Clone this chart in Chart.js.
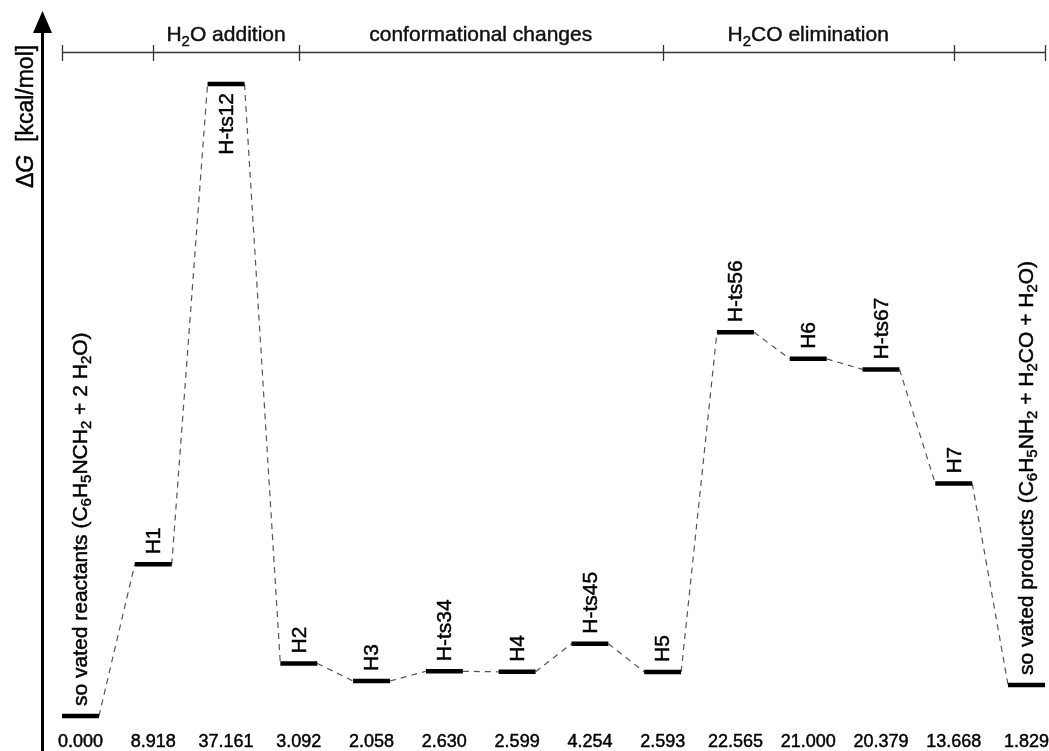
<!DOCTYPE html>
<html><head><meta charset="utf-8">
<script src="https://cdn.jsdelivr.net/npm/chart.js@4/dist/chart.umd.min.js"></script>
<style>html,body{margin:0;padding:0;background:#fff;}#wrap{width:1049px;height:751px;}</style>
</head><body><div id="wrap"><canvas id="c" width="1049" height="751"></canvas></div>
<script>
// ---- data ----
const states = [
  'so vated reactants (C_6H_5NCH_2 + 2 H_2O)', 'H1', 'H-ts12', 'H2', 'H3', 'H-ts34', 'H4',
  'H-ts45', 'H5', 'H-ts56', 'H6', 'H-ts67', 'H7', 'so vated products (C_6H_5NH_2 + H_2CO + H_2O)'
];
const energies = [0.000, 8.918, 37.161, 3.092, 2.058, 2.630, 2.599, 4.254, 2.593, 22.565, 21.000, 20.379, 13.668, 1.829];
const energyLabels = energies.map(v => v.toFixed(3));
const labelsBelow = ['H-ts12'];
const stageNames = ['H_2O addition', 'conformational changes', 'H_2CO elimination'];
const stageBounds = [-0.254, 1, 3, 8, 12, 13.254];   // bracket ticks (state index units)
const stageFirst = 1;                                 // first bound that opens a named stage

// ---- style ----
const FONT = '"Liberation Sans", Arial, Helvetica, sans-serif';
const HALF = 0.254;
const TEXT_STROKE = 0.45;

const levelPts = [];
energies.forEach((v, i) => {
  levelPts.push({x: i - HALF, y: v}, {x: i + HALF, y: v}, {x: i + 0.5, y: null});
});
const pathPts = [];
for (let i = 0; i < energies.length - 1; i++) {
  pathPts.push({x: i + HALF, y: energies[i]}, {x: i + 1 - HALF, y: energies[i + 1]}, {x: i + 1, y: null});
}

function parseRich(str) {
  const out = [];
  let cur = '';
  for (let k = 0; k < str.length; k++) {
    if (str[k] === '_' && k + 1 < str.length) {
      if (cur) out.push({t: cur, sub: false});
      cur = '';
      out.push({t: str[k + 1], sub: true});
      k++;
    } else cur += str[k];
  }
  if (cur) out.push({t: cur, sub: false});
  return out;
}
function textOut(ctx, t, x, y) {
  ctx.fillText(t, x, y);
  ctx.strokeText(t, x, y);
}
function drawRich(ctx, str, x, y, size, align, baseline) {
  const segs = parseRich(str);
  const widths = segs.map(s => {
    ctx.font = (s.sub ? Math.round(size * 0.7) : size) + 'px ' + FONT;
    return ctx.measureText(s.t).width;
  });
  const total = widths.reduce((a, b) => a + b, 0);
  let cx = align === 'center' ? x - total / 2 : align === 'right' ? x - total : x;
  ctx.textAlign = 'left';
  ctx.textBaseline = baseline;
  segs.forEach((s, k) => {
    ctx.font = (s.sub ? Math.round(size * 0.7) : size) + 'px ' + FONT;
    textOut(ctx, s.t, cx, y + (s.sub ? size * 0.25 : 0));
    cx += widths[k];
  });
}

const diagramPlugin = {
  id: 'diagram',
  afterDatasetsDraw(chart) {
    const ctx = chart.ctx;
    const xs = chart.scales.x, ys = chart.scales.y;
    const ax = chart.chartArea.left + 0.5;
    ctx.save();
    // y axis with arrow
    ctx.strokeStyle = '#000';
    ctx.lineWidth = 3;
    ctx.beginPath();
    ctx.moveTo(ax, chart.height);
    ctx.lineTo(ax, 30);
    ctx.stroke();
    ctx.fillStyle = '#000';
    ctx.beginPath();
    ctx.moveTo(ax, 11);
    ctx.lineTo(ax - 9.5, 33);
    ctx.lineTo(ax + 9.5, 33);
    ctx.closePath();
    ctx.fill();
    // y label
    ctx.save();
    ctx.strokeStyle = '#000';
    ctx.lineWidth = TEXT_STROKE;
    ctx.translate(33, 188);
    ctx.rotate(-Math.PI / 2);
    ctx.textBaseline = 'alphabetic';
    ctx.textAlign = 'left';
    let px = 0;
    ctx.font = '23px ' + FONT;
    textOut(ctx, '\u0394', px, 0); px += ctx.measureText('\u0394').width;
    ctx.font = 'italic 23px ' + FONT;
    textOut(ctx, 'G', px, 0); px += ctx.measureText('G').width;
    ctx.font = '23px ' + FONT;
    textOut(ctx, '  [kcal/mol]', px, 0);
    ctx.restore();
    // stage bracket
    ctx.strokeStyle = '#333';
    ctx.lineWidth = 1.3;
    const by = 52.5;
    ctx.beginPath();
    ctx.moveTo(xs.getPixelForValue(stageBounds[0]), by);
    ctx.lineTo(xs.getPixelForValue(stageBounds[stageBounds.length - 1]), by);
    stageBounds.forEach(b => {
      const bx = Math.round(xs.getPixelForValue(b)) + 0.5;
      ctx.moveTo(bx, 45);
      ctx.lineTo(bx, 61);
    });
    ctx.stroke();
    ctx.fillStyle = '#111';
    ctx.strokeStyle = '#111';
    ctx.lineWidth = TEXT_STROKE;
    stageNames.forEach((name, k) => {
      const mid = (stageBounds[stageFirst + k] + stageBounds[stageFirst + k + 1]) / 2;
      drawRich(ctx, name, xs.getPixelForValue(mid), 41, 21, 'center', 'alphabetic');
    });
    // state labels
    ctx.fillStyle = '#000';
    ctx.strokeStyle = '#000';
    states.forEach((name, i) => {
      const cx = xs.getPixelForValue(i);
      const cy = ys.getPixelForValue(energies[i]);
      const below = labelsBelow.includes(name);
      ctx.save();
      ctx.translate(cx + 1, below ? cy + 9 : cy - 10);
      ctx.rotate(-Math.PI / 2);
      drawRich(ctx, name, 0, 0, 21, below ? 'right' : 'left', 'middle');
      ctx.restore();
    });
    ctx.restore();
  }
};

new Chart(document.getElementById('c'), {
  type: 'line',
  data: {
    datasets: [
      {label: 'levels', data: levelPts, borderColor: '#000', borderWidth: 4.5, pointRadius: 0,
       spanGaps: false, order: 1, borderCapStyle: 'butt', tension: 0},
      {label: 'paths', data: pathPts, borderColor: '#555', borderWidth: 1.2, borderDash: [6, 5],
       pointRadius: 0, spanGaps: false, order: 2, tension: 0}
    ]
  },
  options: {
    responsive: false,
    animation: false,
    events: [],
    plugins: {legend: {display: false}, tooltip: {enabled: false}},
    layout: {padding: {left: 42, top: 20, right: 1, bottom: 0}},
    scales: {
      x: {
        type: 'linear', min: -0.529, max: 13.295,
        grid: {display: false, drawTicks: false},
        border: {display: false},
        afterBuildTicks: s => { s.ticks = energies.map((v, i) => ({value: i})); },
        afterFit: s => { s.height = 21; s.paddingLeft = 0; s.paddingRight = 0; },
        ticks: {autoSkip: false, maxRotation: 0, minRotation: 0, padding: 1, color: '#000',
                textStrokeColor: '#000', textStrokeWidth: TEXT_STROKE,
                font: {family: FONT, size: 18},
                callback: (v) => energyLabels[v] !== undefined ? energyLabels[v] : ''}
      },
      y: {display: false, min: -0.823, max: 40.925}
    }
  },
  plugins: [diagramPlugin]
});
</script>
</body></html>
